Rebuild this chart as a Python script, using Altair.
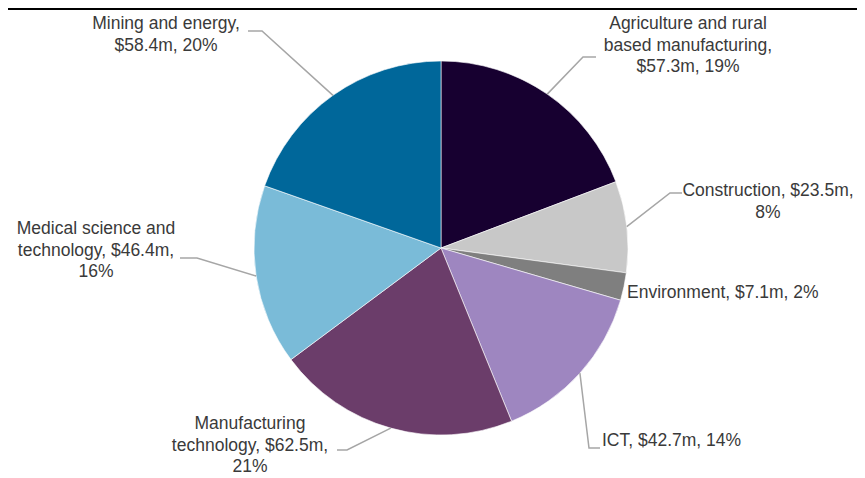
import math
import altair as alt
import pandas as pd

# ---------------- data ----------------
categories = [
    "Agriculture and rural based manufacturing",
    "Construction",
    "Environment",
    "ICT",
    "Manufacturing technology",
    "Medical science and technology",
    "Mining and energy",
]
funding = [57.3, 23.5, 7.1, 42.7, 62.5, 46.4, 58.4]  # $m
labels = [
    "Agriculture and rural\nbased manufacturing,\n$57.3m, 19%",
    "Construction, $23.5m,\n8%",
    "Environment, $7.1m, 2%",
    "ICT, $42.7m, 14%",
    "Manufacturing\ntechnology, $62.5m,\n21%",
    "Medical science and\ntechnology, $46.4m,\n16%",
    "Mining and energy,\n$58.4m, 20%",
]
colors = ["#170030", "#c8c8c8", "#7f7f7f", "#9e86c0", "#6b3d6a", "#7abbd8", "#00679a"]

# ---------------- layout (pixels, chart coordinates) ----------------
W, H = 849, 470
CX, CY, R = 433, 240, 187
label_pos = {  # x, first-line baseline y, align
    "Agriculture and rural based manufacturing": (680, 21, "center"),
    "Construction": (760, 188, "center"),
    "Environment": (619, 290, "left"),
    "ICT": (594, 438, "left"),
    "Manufacturing technology": (242, 421, "center"),
    "Medical science and technology": (88, 226, "center"),
    "Mining and energy": (158, 21, "center"),
}
leader_pts = {  # elbow, end
    "Agriculture and rural based manufacturing": [(575, 49), (588, 49)],
    "Construction": [(662, 185), (674, 185)],
    "ICT": [(581, 440), (592, 440)],
    "Manufacturing technology": [(339, 442), (329, 442)],
    "Medical science and technology": [(189, 250), (172, 250)],
    "Mining and energy": [(254, 23), (240, 23)],
}

# ---------------- tables ----------------
pie_df = pd.DataFrame({"category": categories, "funding": funding, "idx": range(len(categories))})

total = sum(funding)
rows = []
cum = 0.0
for cat, v in zip(categories, funding):
    mid = (cum + v / 2) / total * 2 * math.pi
    cum += v
    if cat not in leader_pts:
        continue
    ex = CX + R * math.sin(mid)
    ey = CY - R * math.cos(mid)
    pts = [(ex, ey)] + leader_pts[cat]
    for i, (px, py) in enumerate(pts):
        rows.append({"category": cat, "step": i, "px": px, "py": py})
line_df = pd.DataFrame(rows)

text_rows = []
for cat, lab in zip(categories, labels):
    x, y, al = label_pos[cat]
    text_rows.append({"category": cat, "label": lab, "px": x, "py": y, "align": al})
text_df = pd.DataFrame(text_rows)

xs = alt.Scale(domain=[0, W], range=[0, W])
ys = alt.Scale(domain=[0, H], range=[0, H])

pie = alt.Chart(pie_df).mark_arc(outerRadius=R, stroke="#ffffff", strokeWidth=0.6).encode(
    theta=alt.Theta("funding:Q", stack=True),
    color=alt.Color("category:N", scale=alt.Scale(domain=categories, range=colors), legend=None),
    order=alt.Order("idx:Q"),
    x=alt.value(CX),
    y=alt.value(CY),
)

leaders = alt.Chart(line_df).mark_line(color="#a6a6a6", strokeWidth=1.5).encode(
    x=alt.X("px:Q", scale=xs, axis=None),
    y=alt.Y("py:Q", scale=ys, axis=None),
    detail="category:N",
    order="step:Q",
)

font = "Liberation Sans"
FS = 17.5
txt_center = alt.Chart(text_df[text_df["align"] == "center"]).mark_text(
    align="center", baseline="alphabetic", font=font, fontSize=FS, lineHeight=21.5,
    color="#3a3a3a", lineBreak="\n",
).encode(x=alt.X("px:Q", scale=xs, axis=None), y=alt.Y("py:Q", scale=ys, axis=None), text="label:N")

txt_left = alt.Chart(text_df[text_df["align"] == "left"]).mark_text(
    align="left", baseline="alphabetic", font=font, fontSize=FS, lineHeight=21.5,
    color="#3a3a3a", lineBreak="\n",
).encode(x=alt.X("px:Q", scale=xs, axis=None), y=alt.Y("py:Q", scale=ys, axis=None), text="label:N")

border = alt.Chart(pie_df).mark_rule(color="#000000", strokeWidth=2).encode(
    x=alt.value(0), x2=alt.value(W), y=alt.value(1)
)

chart = alt.layer(border, pie, leaders, txt_center, txt_left).properties(
    width=W, height=H, padding=0, autosize=alt.AutoSizeParams(type="none")
).configure_view(stroke=None)

chart.save("out.html", embed_options={"renderer": "svg", "actions": False})
